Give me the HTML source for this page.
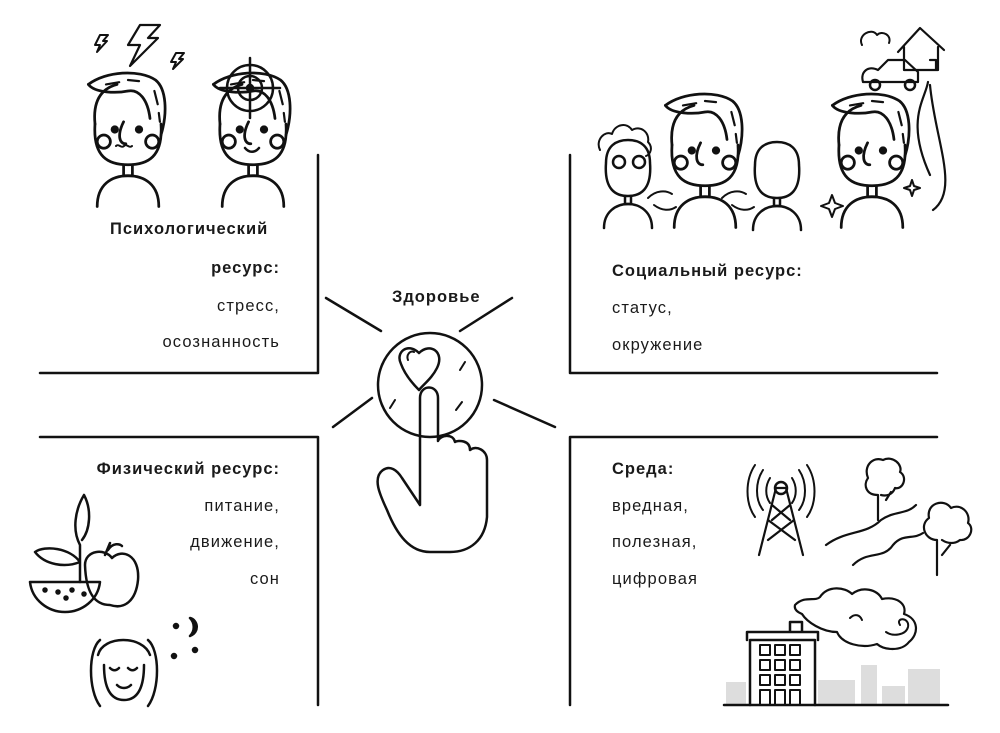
<!DOCTYPE html>
<html><head><meta charset="utf-8"><style>
html,body{margin:0;padding:0;background:#fff;}
body{width:1000px;height:733px;position:relative;overflow:hidden;font-family:"Liberation Sans",sans-serif;color:#1a1a1a;}
.t{position:absolute;font-size:16.5px;letter-spacing:1.1px;white-space:nowrap;}
.b{font-weight:bold;letter-spacing:1px;}
.r{text-align:right;right:720px;}
</style></head><body>
<svg width="1000" height="733" style="position:absolute;left:0;top:0" fill="none" stroke="#111" stroke-width="2.5" stroke-linecap="round" stroke-linejoin="round">
<defs>
<g id="face">
 <path d="M-30,0 C-32,30 -18,37 0,37 C18,37 32,30 30,0"/>
 <path d="M-30,0 C-32,-20 -25,-32 -10,-36"/>
 <path d="M-36,-36 C-20,-48 10,-50 25,-40 C35,-32 36,-10 30,10"/>
 <path d="M-36,-36 C-30,-28 -10,-28 0,-30 C10,-32 18,-22 20,-5"/>
 <path d="M-20,-36 l12,-2 M0,-40 l10,1 M24,-30 l3,12 M28,-10 l1,8" stroke-width="2"/>
 <circle cx="-12" cy="5" r="2.5" fill="#111"/><circle cx="10" cy="5" r="2.5" fill="#111"/>
 <path d="M-4,-2 C-10,10 -8,18 -2,18"/>
 <circle cx="-22" cy="16" r="6"/><circle cx="22" cy="16" r="6"/>
 <path d="M-4,37 v10 h8 v-10"/>
 <path d="M-28,75 C-28,55 -15,47 0,47 C15,47 28,55 28,75"/>
</g>
<g id="sface">
 <path d="M-22,-5 C-24,22 -12,28 0,28 C12,28 24,22 22,-5 C22,-22 12,-28 0,-28 C-12,-28 -22,-22 -22,-5Z"/>
 <path d="M-3,28 v8 h6 v-8"/>
 <path d="M-24,60 C-24,44 -12,36 0,36 C12,36 24,44 24,60"/>
</g>
</defs>

<path d="M318,155 V373 H40 M570,155 V373 H937 M40,437 H318 V705 M937,437 H570 V705"/>

<path d="M326,298 L381,331 M512,298 L460,331 M333,427 L372,398 M555,427 L494,400"/>
<circle cx="430" cy="385" r="52"/>
<path d="M420,458 V398 C420,384 438,384 438,398 V441 C440,435 453,433 455,442 C458,440 470,440 470,450 C476,445 487,450 487,460 V517 C485,540 470,552 450,552 H430 C410,552 397,535 387,510 C380,495 372,478 383,470 C390,465 397,470 402,478 L420,505 V458"/>
<path d="M401,364 C395,352 408,342 419,353 C430,342 445,352 437,368 C432,378 425,383 419,390 C412,383 405,375 401,364Z"/>
<path d="M408,360 C406,355 410,350 414,352 M462,402 L456,410 M395,400 l-5,8 M460,370 l5,-8" stroke-width="2"/>

<g transform="translate(128,124) scale(1.1)"><use href="#face"/></g>
<g transform="translate(253,124) scale(1.1)"><use href="#face"/></g>
<path d="M116,146 c3,-3 5,3 8,0 c3,-3 5,3 8,0" stroke-width="2"/>
<path d="M245,148 c4,5 10,5 14,0" />
<circle cx="250" cy="88" r="23"/><circle cx="250" cy="88" r="12"/><circle cx="250" cy="88" r="3" fill="#111"/>
<path d="M250,58 V118 M220,88 H280"/>
<path d="M140,25 H160 L148,38 H158 L130,66 L140,45 H128 Z" stroke-width="2.2"/>
<path d="M100,35 H108 L103,41 H107 L97,52 L100,45 H95 Z" stroke-width="2"/>
<path d="M176,53 H184 L179,59 H183 L173,69 L176,62 H171 Z" stroke-width="2"/>

<g transform="translate(705,145) scale(1.1)"><use href="#face"/></g>
<use href="#sface" x="628" y="168"/>
<use href="#sface" x="777" y="170"/>
<circle cx="619" cy="162" r="6"/><circle cx="639" cy="162" r="6"/>
<path d="M600,150 c-5,-10 5,-20 12,-16 c3,-10 15,-12 20,-4 c8,-5 18,2 16,12 c5,5 3,12 -2,14" stroke-width="2"/>
<path d="M648,198 c8,-8 18,-8 24,-4 M654,205 c8,6 16,6 22,2 M722,198 c8,-8 18,-8 24,-4 M732,205 c8,6 16,6 22,2" stroke-width="2"/>
<g transform="translate(872,145) scale(1.1)"><use href="#face"/></g>
<path d="M832,195 l3,8 l8,3 l-8,3 l-3,8 l-3,-8 l-8,-3 l8,-3z M912,180 l2,6 l6,2 l-6,2 l-2,6 l-2,-6 l-6,-2 l6,-2z" stroke-width="2"/>
<path d="M933,210 C960,190 935,140 930,85 M928,82 C925,100 905,120 930,175" stroke-width="2.2"/>
<path d="M898,52 L920,28 L944,50 M904,47 V70 H938 V47 M930,60 h6 v10" stroke-width="2.2"/>
<path d="M863,82 C860,72 868,65 878,70 L888,60 H905 L918,72 V82 H863Z" stroke-width="2.2"/>
<circle cx="875" cy="85" r="5"/><circle cx="910" cy="85" r="5"/>
<path d="M862,45 c-5,-10 10,-18 15,-10 c5,-5 15,0 12,8" stroke-width="2"/>

<path d="M30,582 H100 C98,600 82,612 65,612 C48,612 32,600 30,582Z"/>
<circle cx="45" cy="590" r="1.5" fill="#111"/><circle cx="58" cy="592" r="1.5" fill="#111"/><circle cx="72" cy="590" r="1.5" fill="#111"/><circle cx="84" cy="594" r="1.5" fill="#111"/><circle cx="66" cy="598" r="1.5" fill="#111"/>
<path d="M85,565 C85,550 105,548 112,558 C122,548 140,555 138,580 C136,600 125,610 110,605 C96,605 86,595 85,565Z"/>
<path d="M105,555 l5,-12 M108,550 c5,-8 12,-6 14,-4"/>
<path d="M80,582 V545 C72,530 75,510 84,495 C92,510 90,530 82,540 M80,562 C70,548 45,545 35,552 C45,565 65,568 80,562"/>
<path d="M100,640 c-12,10 -12,50 0,66 M148,640 c12,10 12,50 0,66 M98,655 c5,-20 45,-20 52,0"/>
<path d="M104,665 C104,695 115,700 124,700 C133,700 144,695 144,665"/>
<path d="M110,668 c3,3 6,3 9,0 M128,668 c3,3 6,3 9,0 M117,685 c4,4 10,4 14,0"/>
<circle cx="176" cy="626" r="2" fill="#111"/><circle cx="174" cy="656" r="2" fill="#111"/><circle cx="195" cy="650" r="2" fill="#111"/>
<path d="M190,618 c8,2 10,14 0,18 c5,-5 5,-13 0,-18z" fill="#111"/>

<g fill="#ddd" stroke="none">
<rect x="726" y="682" width="20" height="23"/><rect x="818" y="680" width="37" height="25"/><rect x="861" y="665" width="16" height="40"/><rect x="882" y="686" width="23" height="19"/><rect x="908" y="669" width="32" height="36"/>
</g>
<path d="M724,705 H948"/>
<path d="M750,705 V640 H815 V705 M747,640 V632 H818 V640 M790,632 V622 H802 V632"/>
<g stroke-width="2"><path d="M760,645 h10 v10 h-10z M775,645 h10 v10 h-10z M790,645 h10 v10 h-10z M760,660 h10 v10 h-10z M775,660 h10 v10 h-10z M790,660 h10 v10 h-10z M760,675 h10 v10 h-10z M775,675 h10 v10 h-10z M790,675 h10 v10 h-10z M760,690 h10 v15 h-10z M775,690 h10 v15 h-10z M790,690 h10 v15 h-10z"/></g>
<path d="M795,605 c10,-10 20,-3 25,-8 c8,-12 25,-10 32,-3 c10,-8 25,-5 30,5 c15,-3 25,5 22,15 c15,5 15,20 5,28 c-8,10 -25,8 -32,2 c-15,5 -35,0 -40,-12 c-15,0 -30,-10 -35,-18 c-5,-2 -8,-5 -7,-9z" stroke-width="2.2"/>
<path d="M900,625 c-5,-8 10,-8 8,2 c-2,8 -15,10 -22,5 M850,618 c5,-5 10,-3 12,2" stroke-width="2"/>
<path d="M759,555 L776,488 H786 L803,555 M768,520 L795,540 M794,520 L768,540 M772,505 L790,520 M790,505 L772,520" stroke-width="2.2"/>
<circle cx="781" cy="488" r="6"/>
<path d="M770,478 c-5,8 -5,18 0,25 M792,478 c5,8 5,18 0,25 M763,470 c-8,12 -8,30 0,40 M799,470 c8,12 8,30 0,40 M755,465 c-10,15 -10,38 0,52 M807,465 c10,15 10,38 0,52" stroke-width="2"/>
<path d="M826,545 c20,-15 40,-10 55,-25 c15,-10 25,-5 35,-15 M853,565 c15,-15 30,-5 40,-20 c10,-12 20,-5 30,-12" stroke-width="2.2"/>
<path d="M878,520 V495 c-12,0 -15,-10 -10,-17 c-5,-12 5,-22 15,-18 c10,-5 20,5 17,12 c8,5 3,18 -5,16 c-3,8 -10,8 -14,7 M886,500 l5,-8" stroke-width="2.2"/>
<path d="M937,575 V540 c-12,0 -18,-15 -8,-22 c-3,-15 15,-20 22,-10 c10,-5 20,5 17,15 c7,5 2,18 -8,17 c-5,4 -12,4 -18,0 M942,555 l8,-10" stroke-width="2.2"/>
</svg>

<div class="t b" style="left:110px;top:220px">Психологический</div>
<div class="t b r" style="top:259px">ресурс:</div>
<div class="t r" style="top:297px">стресс,</div>
<div class="t r" style="top:333px">осознанность</div>
<div class="t b" style="left:392px;top:288px">Здоровье</div>
<div class="t b" style="left:612px;top:262px">Социальный ресурс:</div>
<div class="t" style="left:612px;top:299px">статус,</div>
<div class="t" style="left:612px;top:336px">окружение</div>
<div class="t b r" style="top:460px">Физический ресурс:</div>
<div class="t r" style="top:497px">питание,</div>
<div class="t r" style="top:533px">движение,</div>
<div class="t r" style="top:570px">сон</div>
<div class="t b" style="left:612px;top:460px">Среда:</div>
<div class="t" style="left:612px;top:497px">вредная,</div>
<div class="t" style="left:612px;top:533px">полезная,</div>
<div class="t" style="left:612px;top:570px">цифровая</div>
</body></html>
